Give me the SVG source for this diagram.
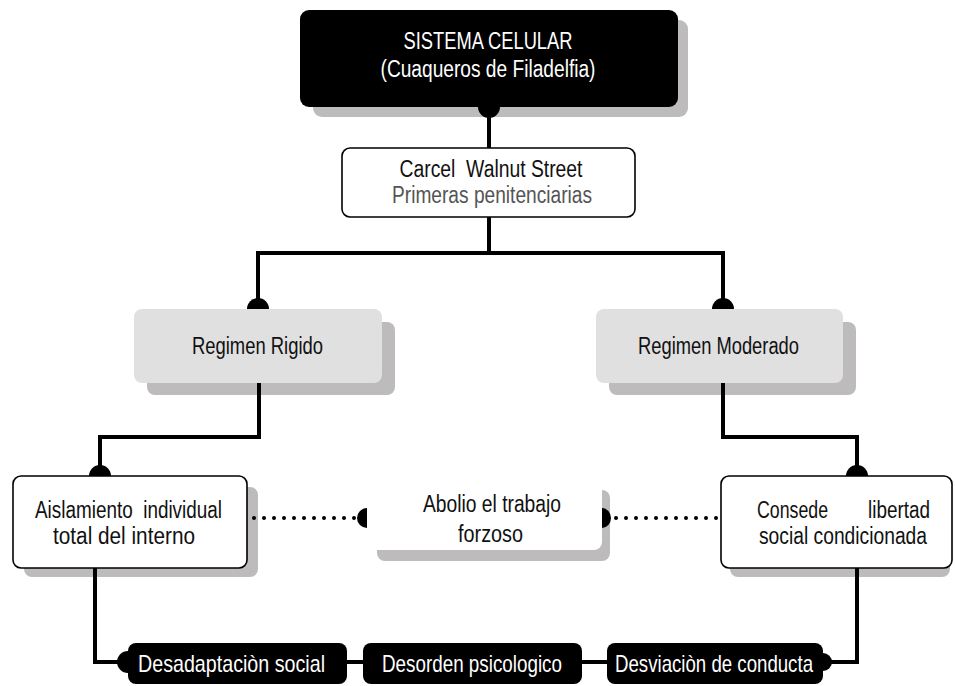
<svg xmlns="http://www.w3.org/2000/svg" width="955" height="686" viewBox="0 0 955 686">
<style>
text{font-family:"Liberation Sans Narrow","Liberation Sans",Arial,sans-serif;font-size:23px;text-anchor:middle;fill:#111}
.w{fill:#fff}
.g{fill:#555}
.bot{font-size:24px}
.st{text-anchor:start}
.sh{fill:#bdbbbb}
.blk{fill:#000}
.wb{fill:#fff;stroke:#000;stroke-width:1.6}
.lg{fill:#e0e0e0}
.ln{fill:none;stroke:#000;stroke-width:4}
.dt{fill:none;stroke:#000;stroke-width:4;stroke-dasharray:0 10;stroke-linecap:round}
.dot{fill:#000}
</style>
<rect width="955" height="686" fill="#fff"/>
<g id="sistema">
<rect class="sh" x="313" y="20" width="375" height="97" rx="9"/>
<rect class="blk" x="300" y="10" width="378" height="97" rx="9"/>
<text class="w" x="488" y="49" textLength="169" lengthAdjust="spacingAndGlyphs">SISTEMA CELULAR</text>
<text class="w" x="488" y="77" textLength="215" lengthAdjust="spacingAndGlyphs">(Cuaqueros de Filadelfia)</text>
</g>
<g id="carcel">
<rect class="wb" x="342" y="148" width="293" height="69" rx="8"/>
<text x="491" y="177" textLength="183" lengthAdjust="spacingAndGlyphs" style="white-space:pre">Carcel  Walnut Street</text>
<text class="g" x="492" y="203" textLength="200" lengthAdjust="spacingAndGlyphs">Primeras penitenciarias</text>
</g>
<g id="rigido">
<rect class="sh" x="147" y="322" width="248" height="73" rx="8"/>
<rect class="lg" x="134" y="309" width="248" height="74" rx="8"/>
<text x="257.5" y="354" textLength="131" lengthAdjust="spacingAndGlyphs">Regimen Rigido</text>
</g>
<g id="moderado">
<rect class="sh" x="609" y="322" width="247" height="73" rx="8"/>
<rect class="lg" x="596" y="309" width="247" height="74" rx="8"/>
<text x="718.5" y="354" textLength="161" lengthAdjust="spacingAndGlyphs">Regimen Moderado</text>
</g>
<g id="aislamiento">
<rect class="sh" x="24" y="487" width="234" height="90" rx="8"/>
<rect class="wb" x="13" y="476" width="234" height="92" rx="8"/>
<text x="128.5" y="518" textLength="187" lengthAdjust="spacingAndGlyphs" style="white-space:pre">Aislamiento  individual</text>
<text x="124" y="544" textLength="142" lengthAdjust="spacingAndGlyphs">total del interno</text>
</g>
<g id="abolio">
<rect class="sh" x="377" y="490" width="233" height="71" rx="8"/>
<rect fill="#fff" x="365" y="478" width="237" height="72" rx="8"/>
<text x="492" y="512" textLength="138" lengthAdjust="spacingAndGlyphs">Abolio el trabajo</text>
<text x="490.5" y="542" textLength="65" lengthAdjust="spacingAndGlyphs">forzoso</text>
</g>
<g id="consede">
<rect class="sh" x="730" y="487" width="220" height="90" rx="8"/>
<rect class="wb" x="721" y="476" width="231" height="92" rx="8"/>
<text x="792.5" y="518" textLength="71" lengthAdjust="spacingAndGlyphs">Consede</text>
<text x="899" y="518" textLength="62" lengthAdjust="spacingAndGlyphs">libertad</text>
<text x="843" y="544" font-size="21" textLength="168" lengthAdjust="spacingAndGlyphs">social condicionada</text>
</g>
<g id="desadaptacion">
<rect class="blk" x="128" y="643" width="219" height="41" rx="8"/>
<text class="w bot" x="231.5" y="672" textLength="187" lengthAdjust="spacingAndGlyphs">Desadaptaciòn social</text>
</g>
<g id="desorden">
<rect class="blk" x="363" y="643" width="219" height="41" rx="8"/>
<text class="w bot" x="472" y="672" textLength="180" lengthAdjust="spacingAndGlyphs">Desorden psicologico</text>
</g>
<g id="desviacion">
<rect class="blk" x="607" y="643" width="216" height="41" rx="8"/>
<text class="w bot" x="714" y="672" textLength="198" lengthAdjust="spacingAndGlyphs">Desviaciòn de conducta</text>
</g>
<g id="connectors">
<path class="ln" d="M489,107 V148"/>
<path class="ln" d="M489,217 V253"/>
<path class="ln" d="M258,309 V253 H723 V309"/>
<path class="ln" d="M259,383 V437 H100 V476"/>
<path class="ln" d="M723,383 V437 H857 V476"/>
<path class="ln" d="M95,568 V662 H128"/>
<path class="ln" d="M347,662 H363"/>
<path class="ln" d="M582,662 H607"/>
<path class="ln" d="M823,662 H857 V568"/>
<path class="dt" d="M254,518 H355"/>
<path class="dt" d="M616,518 H718"/>
<path class="dot" d="M478,107 A11,11 0 0 0 500,107 Z"/>
<path class="dot" d="M247,309 A11,11 0 0 1 269,309 Z"/>
<path class="dot" d="M712,309 A11,11 0 0 1 734,309 Z"/>
<path class="dot" d="M89,476 A11,11 0 0 1 111,476 Z"/>
<path class="dot" d="M846,476 A11,11 0 0 1 868,476 Z"/>
<path class="dot" d="M367,508 A10,10 0 0 0 367,528 Z"/>
<path class="dot" d="M602,508 A9,10 0 0 1 602,528 Z"/>
<path class="dot" d="M128,651 A11,11 0 0 0 128,673 Z"/>
<path class="dot" d="M823,653 A9,9 0 0 1 823,671 Z"/>
</g>
</svg>
